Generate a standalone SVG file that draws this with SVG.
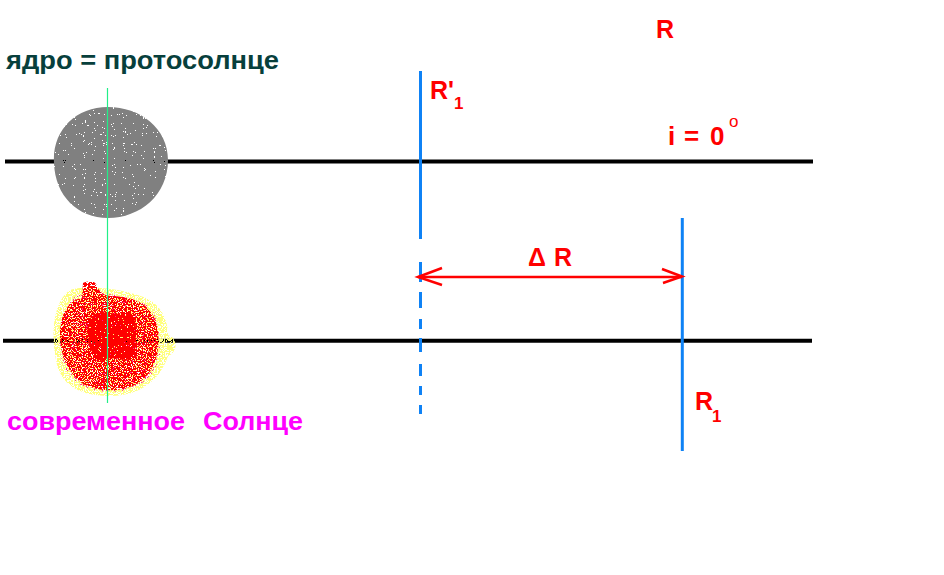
<svg xmlns="http://www.w3.org/2000/svg" width="944" height="575" viewBox="0 0 944 575">
<style>
.lbl{font-family:"Liberation Sans",Arial,sans-serif;font-weight:bold;fill:#ff0000}
.axis{stroke:#000;stroke-width:4;fill:none}
.blue{stroke:#0f82f5;stroke-width:3;fill:none}
.arr{stroke:#ff0000;stroke-width:2.5;fill:none}
</style>
<defs>
<filter id="fGray" x="-10%" y="-10%" width="120%" height="120%" color-interpolation-filters="sRGB">
<feTurbulence type="fractalNoise" baseFrequency="0.9" numOctaves="1" seed="3" result="n"/>
<feColorMatrix in="n" type="matrix" values="0 0 0 0 0  0 0 0 0 0  0 0 0 0 0  1 0 0 0 0.2" result="a"/>
<feComponentTransfer in="a" result="m"><feFuncA type="discrete" tableValues="0 1"/></feComponentTransfer>
<feComposite in="SourceGraphic" in2="m" operator="in"/>
</filter>
<filter id="fRed" x="-10%" y="-10%" width="120%" height="120%" color-interpolation-filters="sRGB">
<feTurbulence type="fractalNoise" baseFrequency="0.8" numOctaves="1" seed="7" result="n"/>
<feColorMatrix in="n" type="matrix" values="0 0 0 0 0  0 0 0 0 0  0 0 0 0 0  1 0 0 0 0.04" result="a"/>
<feComponentTransfer in="a" result="m"><feFuncA type="discrete" tableValues="0 1"/></feComponentTransfer>
<feComposite in="SourceGraphic" in2="m" operator="in"/>
</filter>
<filter id="fCore" x="-10%" y="-10%" width="120%" height="120%" color-interpolation-filters="sRGB">
<feTurbulence type="fractalNoise" baseFrequency="0.7" numOctaves="1" seed="23" result="n"/>
<feColorMatrix in="n" type="matrix" values="0 0 0 0 0  0 0 0 0 0  0 0 0 0 0  1 0 0 0 0.1" result="a"/>
<feComponentTransfer in="a" result="m"><feFuncA type="discrete" tableValues="0 1"/></feComponentTransfer>
<feComposite in="SourceGraphic" in2="m" operator="in"/>
</filter>
<filter id="fYel" x="-10%" y="-10%" width="120%" height="120%" color-interpolation-filters="sRGB">
<feTurbulence type="fractalNoise" baseFrequency="0.9" numOctaves="1" seed="11" result="n"/>
<feColorMatrix in="n" type="matrix" values="0 0 0 0 0  0 0 0 0 0  0 0 0 0 0  1 0 0 0 0.04" result="a"/>
<feComponentTransfer in="a" result="m"><feFuncA type="discrete" tableValues="0 1"/></feComponentTransfer>
<feComposite in="SourceGraphic" in2="m" operator="in"/>
</filter>
<filter id="fMag" x="-10%" y="-10%" width="120%" height="120%" color-interpolation-filters="sRGB">
<feTurbulence type="fractalNoise" baseFrequency="0.9" numOctaves="1" seed="19" result="n"/>
<feColorMatrix in="n" type="matrix" values="0 0 0 0 0  0 0 0 0 0  0 0 0 0 0  1 0 0 0 -0.12" result="a"/>
<feComponentTransfer in="a" result="m"><feFuncA type="discrete" tableValues="0 1"/></feComponentTransfer>
<feComposite in="SourceGraphic" in2="m" operator="in"/>
</filter>
</defs>

<g id="axes">
<line id="orbit-top" class="axis" x1="5" y1="161.5" x2="813" y2="161.5"/>
<line id="orbit-bottom" class="axis" x1="3" y1="340.7" x2="812" y2="340.7"/>
</g>

<g id="protosun">
<path fill="#808080" filter="url(#fGray)" d="M108,107 C140,107 168,128 168,160 C168,195 140,218 108,218 C78,218 55,196 54,163 C52,131 75,107 108,107 Z"/>
</g>

<g id="modern-sun">
<path fill="#ffff80" filter="url(#fYel)" d="M70,290 C90,284 130,290 150,300 C165,310 168,325 168,335 C178,338 178,352 168,356 C160,380 140,396 110,396 C80,396 60,385 56,360 C50,330 55,300 70,290 Z"/>
<path fill="#ff2a9a" filter="url(#fMag)" d="M76,296 C98,290 130,296 148,305 C160,318 162,340 160,360 C152,380 135,392 110,392 C82,392 64,378 60,352 C58,326 62,305 76,296 Z"/>
<path fill="#ff0000" filter="url(#fRed)" d="M83,283 C88,281 94,281 96,284 C99,291 102,295 110,296 C135,296 152,305 157,325 C162,350 155,375 135,385 C120,392 100,392 85,385 C68,375 60,355 60,335 C60,315 68,300 82,298 Z"/>
<path fill="#ff0000" filter="url(#fCore)" d="M90,318 C102,306 118,318 130,312 C142,326 132,344 136,356 C124,366 112,352 100,362 C88,352 84,334 90,318 Z"/>
</g>

<g id="axis-line">
<line x1="107.5" y1="88" x2="107.5" y2="403" stroke="#22ee88" stroke-width="1.2"/>
</g>

<g id="connectors">
<line id="R1-prime" class="blue" x1="420.5" y1="71" x2="420.5" y2="239"/>
<g id="R1-prime-dashed" class="blue">
<line x1="420.5" y1="262" x2="420.5" y2="282"/>
<line x1="420.5" y1="292" x2="420.5" y2="308"/>
<line x1="420.5" y1="319" x2="420.5" y2="329"/>
<line x1="420.5" y1="338" x2="420.5" y2="352"/>
<line x1="420.5" y1="364" x2="420.5" y2="376"/>
<line x1="420.5" y1="386" x2="420.5" y2="395"/>
<line x1="420.5" y1="405" x2="420.5" y2="414"/>
</g>
<line id="R1" class="blue" x1="682.3" y1="218" x2="682.3" y2="451"/>
<g id="delta-R-arrow" class="arr">
<line x1="418" y1="277" x2="682" y2="277"/>
<polyline points="442,268 418,277 442,285"/>
<polyline points="662,269 682,276.5 663,283"/>
</g>
</g>

<g id="labels">
<text x="6" y="69" font-family="Liberation Sans, Arial, sans-serif" font-weight="bold" font-size="26" fill="#073f3c" textLength="273" lengthAdjust="spacingAndGlyphs">ядро = протосолнце</text>
<text font-family="Liberation Sans, Arial, sans-serif" font-weight="bold" font-size="26" fill="#ff00ff" y="430"><tspan x="7" textLength="178" lengthAdjust="spacingAndGlyphs">современное</tspan><tspan x="203" textLength="100" lengthAdjust="spacingAndGlyphs">Солнце</tspan></text>
<text class="lbl" x="656" y="38" font-size="25">R</text>
<text class="lbl" x="430" y="99" font-size="25">R'</text>
<text class="lbl" x="454" y="109" font-size="17">1</text>
<text class="lbl" y="145" font-size="26"><tspan x="668">i</tspan><tspan x="684">=</tspan><tspan x="710">0</tspan></text>
<text x="729" y="127" font-family="Liberation Sans, Arial, sans-serif" font-size="17" fill="#ff0000">o</text>
<text class="lbl" x="528" y="266" font-size="25">Δ</text>
<text class="lbl" x="554" y="266" font-size="25">R</text>
<text class="lbl" x="695" y="410" font-size="25">R</text>
<text class="lbl" x="712" y="422" font-size="17">1</text>
</g>
</svg>
